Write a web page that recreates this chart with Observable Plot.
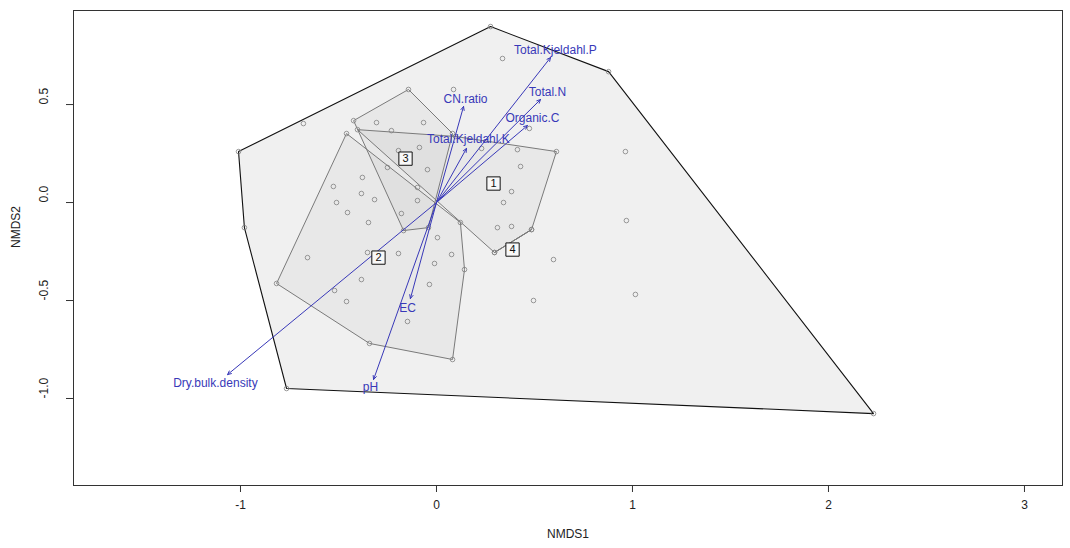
<!DOCTYPE html>
<html><head><meta charset="utf-8">
<script src="https://cdn.jsdelivr.net/npm/d3@7"></script>
<script src="https://cdn.jsdelivr.net/npm/@observablehq/plot@0.6"></script>
<style>body{margin:0;background:#fff}</style>
</head><body><div id="chart"></div>
<script>
// Site scores (NMDS1, NMDS2) by group
const g1X = [-0.403, 0.097, 0.612, 0.485, 0.296, 0.230, 0.413, 0.429, 0.383, 0.342, 0.311, 0.383];
const g1Y = [0.372, 0.337, 0.260, -0.138, -0.255, 0.276, 0.270, 0.184, 0.056, 0.000, -0.128, -0.122];
const g2X = [-0.459, -0.816, -0.342, 0.082, 0.143, 0.122, -0.378, -0.526, -0.383, -0.316, -0.510, -0.454, -0.347, 0.005, 0.077, -0.010, -0.194, -0.352, -0.658, -0.383, -0.036, -0.520, -0.459, -0.148];
const g2Y = [0.352, -0.413, -0.719, -0.801, -0.342, -0.102, 0.128, 0.082, 0.046, 0.015, 0.000, -0.051, -0.102, -0.179, -0.265, -0.311, -0.260, -0.255, -0.281, -0.393, -0.418, -0.449, -0.505, -0.607];
const g3X = [-0.143, -0.423, 0.082, -0.041, -0.168, -0.306, -0.230, -0.066, -0.087, -0.194, -0.250, -0.097, -0.097, -0.179, -0.046];
const g3Y = [0.577, 0.418, 0.352, -0.128, -0.143, 0.408, 0.367, 0.408, 0.281, 0.265, 0.179, 0.077, 0.010, -0.056, 0.168];
const g4X = [0.296, 0.485];
const g4Y = [-0.255, -0.138];
const g5X = [-1.010, 0.276, 0.878, 2.230, -0.765, -0.980, -0.679, 0.087, 0.337, 0.964, 0.969, 0.597, 0.495, 1.015, 0.474];
const g5Y = [0.260, 0.898, 0.668, -1.077, -0.949, -0.128, 0.403, 0.577, 0.735, 0.260, -0.092, -0.291, -0.500, -0.469, 0.378];

// Group label positions (hull centres)
const groupLabels = ["1", "2", "3", "4"];
const groupLabelX = [0.291, -0.296, -0.158, 0.388];
const groupLabelY = [0.097, -0.281, 0.224, -0.240];

// Fitted environmental vectors
const envNames = ["Total.Kjeldahl.P", "Total.N", "Organic.C", "CN.ratio", "Total.Kjeldahl.K", "EC", "pH", "Dry.bulk.density"];
const envX = [0.582, 0.531, 0.464, 0.138, 0.153, -0.133, -0.321, -1.066];
const envY = [0.740, 0.526, 0.393, 0.490, 0.276, -0.490, -0.903, -0.878];
const envLabelX = [0.607, 0.566, 0.490, 0.148, 0.163, -0.148, -0.337, -1.128];
const envLabelY = [0.776, 0.561, 0.429, 0.526, 0.321, -0.541, -0.944, -0.923];

// Axis ticks
const xTicks = [-1, 0, 1, 2, 3];
const yTicks = [-1.0, -0.5, 0.0, 0.5];

const mk = (xs, ys, g) => xs.map((x, i) => ({x, y: ys[i], group: g}));
const sites = [
  ...mk(g1X, g1Y, "1"), ...mk(g2X, g2Y, "2"), ...mk(g3X, g3Y, "3"),
  ...mk(g4X, g4Y, "4"), ...mk(g5X, g5Y, "5")
];
const outer = sites.filter(d => d.group === "5");
const inner = sites.filter(d => d.group !== "5");
const env = envNames.map((n, i) => ({name: n, x0: 0, y0: 0, x: envX[i], y: envY[i], lx: envLabelX[i], ly: envLabelY[i]}));
const glab = groupLabels.map((t, i) => ({t, x: groupLabelX[i], y: groupLabelY[i]}));

const blue = "#3838b8";
const font = "'Liberation Sans', Arial, sans-serif";

const chart = Plot.plot({
  width: 1070,
  height: 548,
  marginLeft: 73,
  marginRight: 8,
  marginTop: 10,
  marginBottom: 63,
  style: {fontFamily: font, fontSize: "12px", color: "#222", background: "#fff"},
  x: {domain: [-1.852, 3.194]},
  y: {domain: [-1.444, 0.980]},
  marks: [
    Plot.hull(outer, {x: "x", y: "y", fill: "#808080", fillOpacity: 0.12, stroke: "#111", strokeWidth: 1.1}),
    Plot.hull(inner, {x: "x", y: "y", z: "group", fill: "#808080", fillOpacity: 0.07, stroke: "#7a7a7a", strokeWidth: 1}),
    Plot.dot(sites, {x: "x", y: "y", r: 2.3, stroke: "#808080", strokeWidth: 0.8, fill: "none"}),
    Plot.arrow(env, {x1: "x0", y1: "y0", x2: "x", y2: "y", stroke: blue, strokeWidth: 1, headLength: 6, headAngle: 50}),
    Plot.text(env, {x: "lx", y: "ly", text: "name", fill: blue, fontSize: 12, fontFamily: font}),
    Plot.dot(glab, {x: "x", y: "y", symbol: "square", r: 7.5, fill: "#f8f8f8", stroke: "#111", strokeWidth: 1}),
    Plot.text(glab, {x: "x", y: "y", text: "t", fill: "#111", fontSize: 11, fontFamily: font}),
    Plot.frame({stroke: "#333", strokeWidth: 1}),
    Plot.axisX({ticks: xTicks, tickFormat: d => String(d), tickSize: 7, tickPadding: 8, label: null, stroke: "#333", fill: "#222"}),
    Plot.axisY({ticks: yTicks, tickFormat: () => "", tickSize: 7, label: null, stroke: "#333"}),
    Plot.text(yTicks, {frameAnchor: "left", y: d => d, dx: -29, rotate: -90, text: d => d.toFixed(1), fill: "#222", fontSize: 12}),
    Plot.text(["NMDS1"], {frameAnchor: "bottom", dy: 52, text: d => d, fill: "#222", fontSize: 12}),
    Plot.text(["NMDS2"], {frameAnchor: "left", dx: -57, rotate: -90, text: d => d, fill: "#222", fontSize: 12})
  ]
});
document.getElementById("chart").appendChild(chart);
</script></body></html>
